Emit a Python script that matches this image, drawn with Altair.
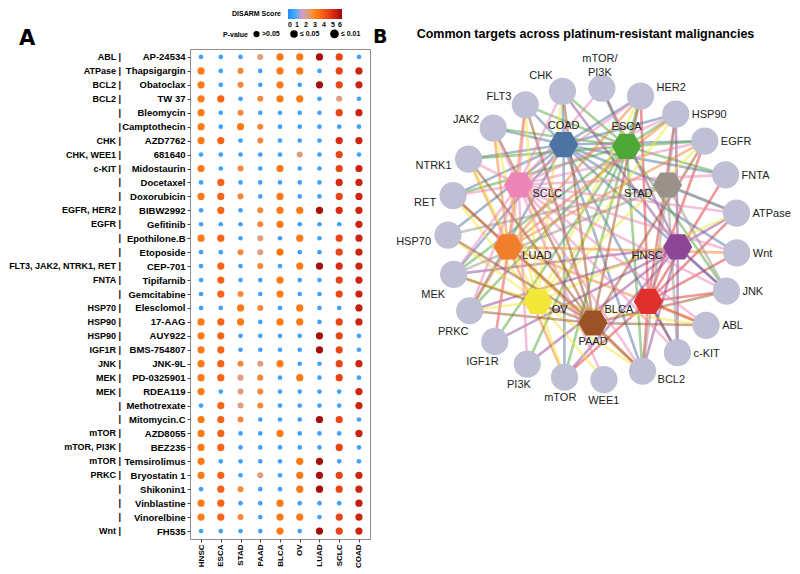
import math
import altair as alt
import pandas as pd

# ---------------- Panel A data ----------------
cancers = ["HNSC", "ESCA", "STAD", "PAAD", "BLCA", "OV", "LUAD", "SCLC", "COAD"]

drugs = ["AP-24534", "Thapsigargin", "Obatoclax", "TW 37", "Bleomycin", "Camptothecin",
         "AZD7762", "681640", "Midostaurin", "Docetaxel", "Doxorubicin", "BIBW2992",
         "Gefitinib", "Epothilone.B", "Etoposide", "CEP-701", "Tipifarnib", "Gemcitabine",
         "Elesclomol", "17-AAG", "AUY922", "BMS-754807", "JNK-9L", "PD-0325901", "RDEA119",
         "Methotrexate", "Mitomycin.C", "AZD8055", "BEZ235", "Temsirolimus", "Bryostatin 1",
         "Shikonin1", "Vinblastine", "Vinorelbine", "FH535"]

drug_targets = ["ABL", "ATPase", "BCL2", "BCL2", "", "", "CHK", "CHK, WEE1", "c-KIT", "", "",
                "EGFR, HER2", "EGFR", "", "", "FLT3, JAK2, NTRK1, RET", "FNTA", "", "HSP70",
                "HSP90", "HSP90", "IGF1R", "JNK", "MEK", "MEK", "", "", "mTOR", "mTOR, PI3K",
                "mTOR", "PRKC", "", "", "", "Wnt"]

# DISARM scores (one list per cancer, in drug order)
score_HNSC = [0.6,3.2,3.2,3.2,3.2,3.2,3.2,0.6,3.2,0.6,3.2,0.6,0.6,3.2,0.6,0.6,0.6,0.6,0.6,3.2,3.2,3.2,3.2,3.2,3.2,0.6,3.2,3.2,3.2,3.2,3.2,0.6,3.2,3.2,0.6]
score_ESCA = [0.6,0.6,0.6,3.7,0.6,0.6,3.7,0.6,0.6,3.7,3.7,3.7,0.6,3.7,0.6,3.7,3.7,3.7,0.6,3.7,3.7,3.7,3.7,3.7,0.6,3.7,3.7,3.7,3.7,0.6,3.7,3.7,3.7,3.7,0.6]
score_STAD = [0.6,2.8,2.8,0.6,2.8,3.2,0.6,0.6,2.8,0.6,2.8,0.6,0.6,0.6,2.8,0.6,0.6,2.8,3.2,3.2,0.6,0.6,2.8,2.2,2.2,2.2,2.8,0.6,0.6,0.6,0.6,2.8,0.6,2.8,0.6]
score_PAAD = [2.2,0.6,0.6,2.8,0.6,2.8,2.8,0.6,0.6,0.6,0.6,2.8,2.8,2.2,2.2,2.8,0.6,0.6,2.8,0.6,0.6,0.6,2.2,2.8,2.8,2.8,0.6,0.6,0.6,0.6,2.2,0.6,0.6,0.6,0.6]
score_BLCA = [3.2,3.2,3.2,3.2,0.6,0.6,0.6,0.6,3.2,0.6,3.2,3.2,3.2,0.6,3.2,0.6,3.2,3.2,0.6,3.2,0.6,0.6,3.2,0.6,0.6,0.6,0.6,3.2,0.6,0.6,0.6,0.6,3.2,3.2,3.2]
score_OV   = [3.2,3.2,0.6,3.2,0.6,0.6,0.6,2.2,0.6,0.6,0.6,3.2,0.6,3.2,0.6,3.2,0.6,0.6,3.2,3.2,0.6,0.6,0.6,3.2,0.6,0.6,0.6,0.6,0.6,3.2,3.2,3.2,0.6,3.2,0.6]
score_LUAD = [5.9,0.6,5.9,0.6,0.6,0.6,0.6,0.6,0.6,0.6,0.6,5.9,0.6,0.6,0.6,5.9,0.6,0.6,0.6,0.6,5.9,5.9,0.6,0.6,0.6,0.6,5.9,0.6,0.6,5.9,5.9,5.9,0.6,0.6,5.9]
score_SCLC = [4.4,4.4,4.4,2.2,4.4,0.6,5.0,4.4,4.4,5.0,4.4,5.0,0.6,4.4,4.4,5.0,4.4,4.4,0.6,4.4,4.4,4.4,4.4,4.4,0.6,0.6,4.4,0.6,4.4,0.6,4.4,4.4,0.6,4.4,4.4]
score_COAD = [0.6,5.2,5.2,0.6,5.2,0.6,5.2,0.6,5.2,5.2,5.2,5.2,5.2,5.2,5.2,5.2,5.2,5.2,5.4,5.2,0.6,0.6,5.2,0.6,5.2,5.2,0.6,5.2,0.6,0.6,5.2,5.2,5.4,5.2,5.2]

# P-value class: 0 = >0.05, 1 = <=0.05, 2 = <=0.01
p_HNSC = [0,2,2,2,2,2,2,0,2,0,2,0,0,2,0,0,0,0,0,2,2,2,2,2,2,0,2,2,2,2,2,0,2,2,0]
p_ESCA = [0,0,0,2,0,0,2,0,0,2,2,2,0,2,0,2,2,2,0,2,2,2,2,2,0,2,2,2,2,0,2,2,2,2,0]
p_STAD = [0,1,1,0,1,2,0,0,1,0,1,0,0,0,1,0,0,1,2,2,0,0,1,1,1,1,1,0,0,0,0,1,0,1,0]
p_PAAD = [1,0,0,1,0,1,1,0,0,0,0,1,1,1,1,1,0,0,1,0,0,0,1,1,1,1,0,0,0,0,1,0,0,0,0]
p_BLCA = [2,2,2,2,0,0,0,0,2,0,2,2,2,0,2,0,2,2,0,2,0,0,2,0,0,0,0,2,0,0,0,0,2,2,2]
p_OV   = [2,2,0,2,0,0,0,1,0,0,0,2,0,2,0,2,0,0,2,2,0,0,0,2,0,0,0,0,0,2,2,2,0,2,0]
p_LUAD = [2,0,2,0,0,0,0,0,0,0,0,2,0,0,0,2,0,0,0,0,2,2,0,0,0,0,2,0,0,2,2,2,0,0,2]
p_SCLC = [2,2,2,1,2,0,2,2,2,2,2,2,0,2,2,2,2,2,0,2,2,2,2,2,0,0,2,0,2,0,2,2,0,2,2]
p_COAD = [0,2,2,0,2,0,2,0,2,2,2,2,2,2,2,2,2,2,2,2,0,0,2,0,2,2,0,2,0,0,2,2,2,2,2]

scores = {"HNSC": score_HNSC, "ESCA": score_ESCA, "STAD": score_STAD, "PAAD": score_PAAD,
          "BLCA": score_BLCA, "OV": score_OV, "LUAD": score_LUAD, "SCLC": score_SCLC,
          "COAD": score_COAD}
pclass = {"HNSC": p_HNSC, "ESCA": p_ESCA, "STAD": p_STAD, "PAAD": p_PAAD, "BLCA": p_BLCA,
          "OV": p_OV, "LUAD": p_LUAD, "SCLC": p_SCLC, "COAD": p_COAD}
p_labels = [">0.05", "≤ 0.05", "≤ 0.01"]
score_ticks = [0, 1, 2, 3, 4, 5, 6]

for c in cancers:
    assert len(scores[c]) == len(drugs) and len(pclass[c]) == len(drugs), c
assert len(drug_targets) == len(drugs)

# ---------------- Panel B data ----------------
net_targets = ["mTOR/PI3K", "HER2", "HSP90", "EGFR", "FNTA", "ATPase", "Wnt", "JNK", "ABL",
               "c-KIT", "BCL2", "WEE1", "mTOR", "PI3K", "IGF1R", "PRKC", "MEK", "HSP70",
               "RET", "NTRK1", "JAK2", "FLT3", "CHK"]
net_cancers = ["COAD", "ESCA", "STAD", "HNSC", "BLCA", "PAAD", "OV", "LUAD", "SCLC"]
cancer_colors = ["#4d73a3", "#4ea838", "#9a918a", "#8d4595", "#e0302e", "#9b5226",
                 "#f3e83a", "#f07f2b", "#ec84b5"]
target_alias = {"mTOR, PI3K": ["mTOR/PI3K", "PI3K"]}

# ---------------- build tables ----------------
rows = []
for c in cancers:
    for i, d in enumerate(drugs):
        rows.append({"cancer": c, "drug": d, "score": scores[c][i],
                     "pval": p_labels[pclass[c][i]]})
df_dots = pd.DataFrame(rows)

df_tlab = pd.DataFrame({"drug": drugs,
                        "tlabel": [(t + " |") if t else "|" for t in drug_targets]})

# network layout (circular)
n_t = len(net_targets)
t_rows = []
for i, t in enumerate(net_targets):
    th = (i * 360.0 / n_t + 3.5) % 360
    r = math.radians(th)
    x, y = 145 * math.sin(r), 146 * math.cos(r)
    if th < 8 or th > 352:
        al, dx, dy = "center", -2, -29
    elif th < 30:
        al, dx, dy = "left", 16, -8
    elif th < 150:
        al, dx, dy = "left", 16, 1
    elif th < 168:
        al, dx, dy = "left", 15, 9
    elif th < 258:
        al, dx, dy = "center", -(th - 175) * 0.26, 21
    elif th < 306:
        al, dx, dy = "right", -17, 7
    elif th < 340:
        al, dx, dy = "right", -14, -8
    else:
        al, dx, dy = "right", -10, -15
    t_rows.append({"name": t, "x": x, "y": y, "lx": x + dx, "ly": y - dy, "al": al,
                   "label": t.replace("/", "/\n")})
df_t = pd.DataFrame(t_rows)
t_pos = {r["name"]: (r["x"], r["y"]) for r in t_rows}

label_groups = {"top": ["COAD", "ESCA"], "right": ["SCLC", "LUAD", "OV"],
                "left": ["STAD", "HNSC", "BLCA"], "bottom": ["PAAD"]}
c_rows = []
for k, c in enumerate(net_cancers):
    r = math.radians(-20 + 40 * k + (3 if k == 1 else 0))
    x, y = 86 * math.sin(r), 3 + 92 * math.cos(r)
    g = [key for key, v in label_groups.items() if c in v][0]
    dx, dy = {"top": (0, -19), "right": (14, 9), "left": (-15, 9), "bottom": (0, 19)}[g]
    c_rows.append({"cancer": c, "x": x, "y": y, "lx": x + dx, "ly": y - dy, "grp": g})
df_c = pd.DataFrame(c_rows)
c_pos = {r["cancer"]: (r["x"], r["y"]) for r in c_rows}

edges = set()
for i, tstr in enumerate(drug_targets):
    if not tstr:
        continue
    tl = target_alias.get(tstr, [s.strip() for s in tstr.split(",")])
    for c in cancers:
        if pclass[c][i] >= 1:
            for t in tl:
                edges.add((c, t))
e_rows = []
for c, t in sorted(edges):
    (x1, y1), (x2, y2) = c_pos[c], t_pos[t]
    e_rows.append({"cancer": c, "target": t, "x": x1, "y": y1, "x2": x2, "y2": y2})
df_e = pd.DataFrame(e_rows)

FONT = "Liberation Sans"

# ---------------- Panel A chart ----------------
score_scale = alt.Scale(domain=score_ticks,
                        range=["#1a8cff", "#5cb0f7", "#cfa592", "#ff8216", "#f4561b",
                               "#d72a10", "#a00a0a"])

xA = alt.X("cancer:N", sort=cancers, scale=alt.Scale(type="point", padding=0.56),
           axis=alt.Axis(title=None, labelAngle=270, labelFontSize=8, labelFontWeight="bold",
                         labelColor="black", tickSize=3, tickColor="#444", domain=False,
                         labelPadding=2))
yA = alt.Y("drug:N", sort=drugs, scale=alt.Scale(type="point", padding=0.57),
           axis=alt.Axis(title=None, labelFontSize=9.5, labelFontWeight="bold",
                         labelColor="black", tickSize=3, tickColor="#444", domain=False,
                         labelPadding=2))

dots = alt.Chart(df_dots).mark_circle(opacity=1).encode(
    x=xA, y=yA,
    color=alt.Color("score:Q", scale=score_scale,
                    legend=alt.Legend(title="DISARM Score", orient="none", legendX=42,
                                      legendY=-40, direction="horizontal", titleOrient="left",
                                      gradientLength=54, gradientThickness=10,
                                      values=score_ticks, labelFontSize=7,
                                      labelFontWeight="bold", labelColor="black",
                                      titleFontSize=7, titleFontWeight="bold",
                                      titleColor="black", titlePadding=6, labelOverlap=False,
                                      gradientStrokeWidth=0, labelOffset=2)),
    size=alt.Size("pval:N", sort=p_labels,
                  scale=alt.Scale(domain=p_labels, range=[22, 52, 88]),
                  legend=alt.Legend(title="P-value", orient="none", legendX=33, legendY=-20,
                                    direction="horizontal", titleOrient="left",
                                    symbolFillColor="black", symbolStrokeColor="black",
                                    symbolType="circle", symbolOpacity=1, labelFontSize=7,
                                    labelFontWeight="bold", labelColor="black",
                                    titleFontSize=7, titleFontWeight="bold",
                                    titleColor="black", titlePadding=5, columnPadding=7,
                                    labelOffset=2)),
)

tlabels = alt.Chart(df_tlab).mark_text(align="right", baseline="middle", fontSize=9,
                                       fontWeight="bold", color="black").encode(
    y=alt.Y("drug:N", sort=drugs), x=alt.value(-69), text="tlabel:N")

letterA = alt.Chart(pd.DataFrame({"t": ["A"]})).mark_text(
    align="left", baseline="alphabetic", fontSize=21, fontWeight="bold", color="black",
    font="DejaVu Sans").encode(x=alt.value(-171), y=alt.value(-4), text="t:N")

chartA = alt.layer(dots, tlabels, letterA).properties(
    width=180, height=490, view=alt.ViewBackground(stroke="#8c8c8c", strokeWidth=1))

# ---------------- Panel B chart ----------------
xs = alt.Scale(domain=[-198, 197], nice=False, zero=False)
ys = alt.Scale(domain=[-215, 185], nice=False, zero=False)
cancer_scale = alt.Scale(domain=net_cancers, range=cancer_colors)

edge_layer = alt.Chart(df_e).mark_rule(strokeWidth=2.6, opacity=0.5).encode(
    x=alt.X("x:Q", scale=xs, axis=None), y=alt.Y("y:Q", scale=ys, axis=None),
    x2="x2:Q", y2="y2:Q",
    color=alt.Color("cancer:N", scale=cancer_scale, legend=None))

tnode_layer = alt.Chart(df_t).mark_point(shape="circle", filled=True, size=740,
                                         color="#bfc0d6", opacity=1).encode(
    x=alt.X("x:Q", scale=xs, axis=None), y=alt.Y("y:Q", scale=ys, axis=None))

hexagon = "M-1,0L-0.5,-0.866L0.5,-0.866L1,0L0.5,0.866L-0.5,0.866Z"
cnode_layer = alt.Chart(df_c).mark_point(shape=hexagon, filled=True, size=850,
                                         opacity=1).encode(
    x=alt.X("x:Q", scale=xs, axis=None), y=alt.Y("y:Q", scale=ys, axis=None),
    color=alt.Color("cancer:N", scale=cancer_scale, legend=None))

label_layers = []
for al in ["left", "right", "center"]:
    label_layers.append(
        alt.Chart(df_t).transform_filter(alt.datum.al == al).mark_text(
            align=al, baseline="middle", fontSize=11, color="#222222", lineBreak="\n",
            lineHeight=14).encode(
            x=alt.X("lx:Q", scale=xs, axis=None), y=alt.Y("ly:Q", scale=ys, axis=None),
            text="label:N"))
for g, al in [("top", "center"), ("bottom", "center"), ("right", "left"), ("left", "right")]:
    label_layers.append(
        alt.Chart(df_c).transform_filter(alt.datum.grp == g).mark_text(
            align=al, baseline="middle", fontSize=11, color="#222222").encode(
            x=alt.X("lx:Q", scale=xs, axis=None), y=alt.Y("ly:Q", scale=ys, axis=None),
            text="cancer:N"))

letterB = alt.Chart(pd.DataFrame({"t": ["B"]})).mark_text(
    align="left", baseline="alphabetic", fontSize=19, fontWeight="bold", color="black",
    font="DejaVu Sans").encode(x=alt.value(-22), y=alt.value(-6), text="t:N")

chartB = alt.layer(edge_layer, tnode_layer, cnode_layer, *label_layers, letterB).properties(
    width=395, height=400,
    title=alt.TitleParams("Common targets across platinum-resistant malignancies",
                          fontSize=12.5, fontWeight="bold", color="black", anchor="middle",
                          frame="group", offset=-12, dx=-7))

chart = alt.hconcat(chartA, chartB, spacing=2).properties(
    padding={"left": 0, "top": 0, "right": 0, "bottom": 0}
).configure(font=FONT).configure_view(stroke=None)

chart.save("out.html", embed_options={"renderer": "svg", "actions": False})
